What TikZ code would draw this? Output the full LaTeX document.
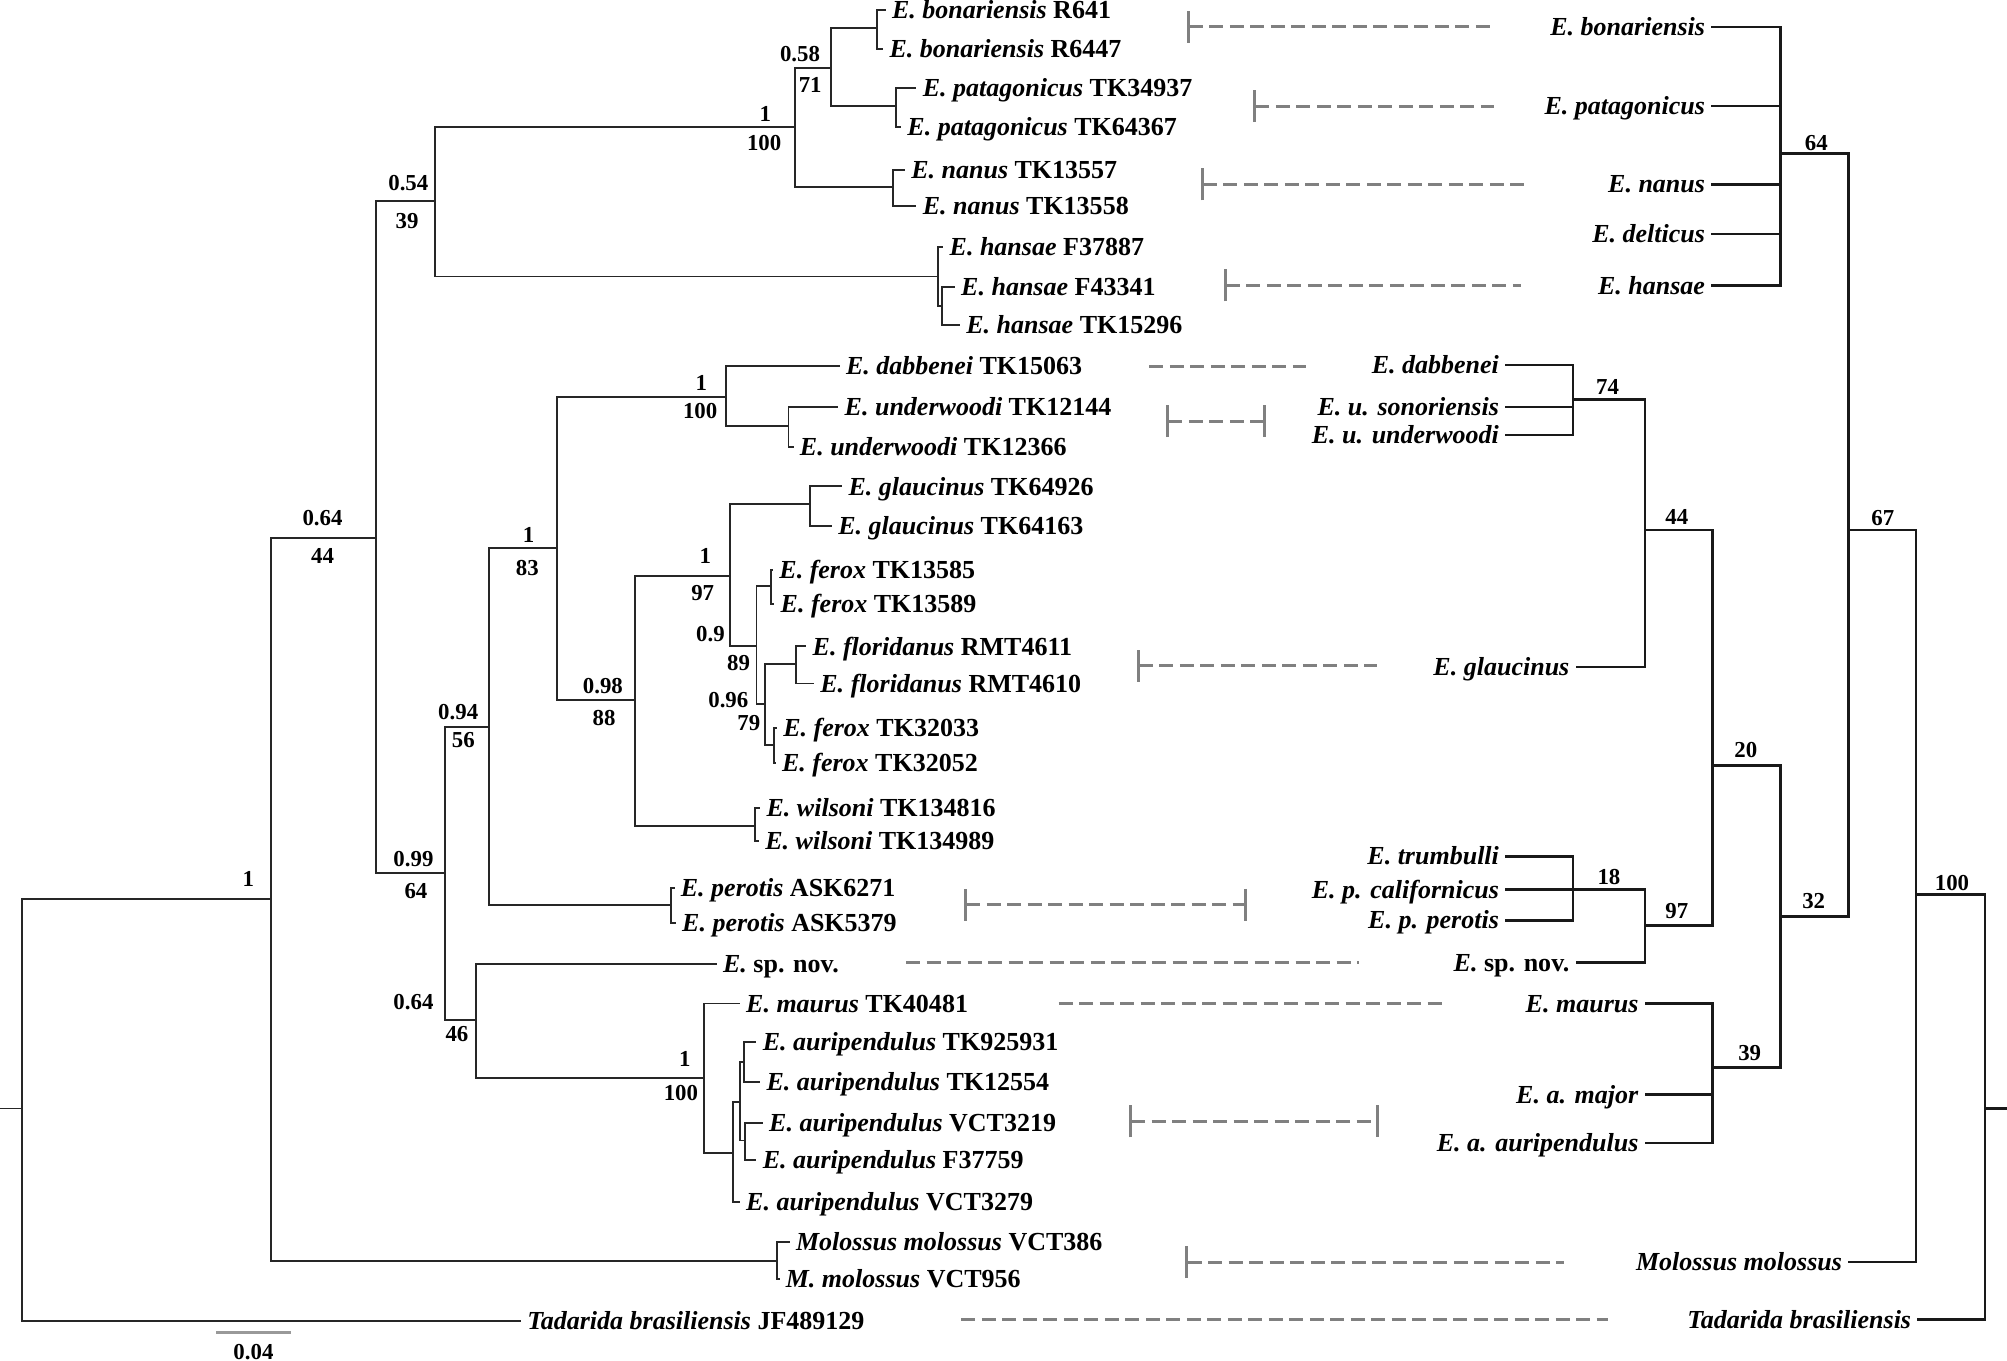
\documentclass[tikz,border=0pt]{standalone}
\usepackage{fontspec}
\setmainfont{Liberation Serif}
\usepackage{tikz}
\usetikzlibrary{arrows.meta}

\begin{document}
\begin{tikzpicture}[
    x=0.128mm, y=-0.128mm,
    font=\bfseries\fontsize{7.4}{8}\selectfont,
    branch/.style={draw=black!85, line width=0.55pt},
    clado/.style={draw=black!90, line width=0.7pt},
    taxon/.style={inner xsep=1.6pt, inner ysep=0pt, text height=4.9pt, text depth=0pt},
    supp/.style={font=\bfseries\fontsize{6.5}{7}\selectfont, inner sep=0pt, text height=4.3pt, text depth=0pt},
    spanline/.style={draw=black!50, line width=0.85pt, dash pattern=on 1.4mm off 0.65mm},
    barl/.style={spanline, {Bar[width=3.2mm]}-},
    barlr/.style={spanline, {Bar[width=3.2mm]}-{Bar[width=3.2mm]}}
]
\useasboundingbox (0,0) rectangle (1568,1063);

% Tree nodes
\coordinate (stubL) at (0,866);
\coordinate (root) at (17,866);
\coordinate (nA) at (212,702);
\coordinate (nB) at (294,420);
\coordinate (nC) at (340,157);
\coordinate (nD) at (621,99);
\coordinate (nE) at (649,53);
\coordinate (nBon) at (685,22);
\coordinate (nPat) at (700,83);
\coordinate (nNan) at (698,146);
\coordinate (nHan) at (733,216);
\coordinate (nHan2) at (736,239);
\coordinate (nF) at (348,682);
\coordinate (nG) at (382,568);
\coordinate (nH) at (435,428);
\coordinate (nI) at (567,310);
\coordinate (nUnd) at (616,333);
\coordinate (nJ) at (496,547);
\coordinate (nK) at (570,450);
\coordinate (nGla) at (633,394);
\coordinate (nL) at (591,505);
\coordinate (nFer) at (602,458);
\coordinate (nR) at (598,550);
\coordinate (nFlo) at (622,519);
\coordinate (nFer2) at (605,582);
\coordinate (nWil) at (590,645);
\coordinate (nPer) at (524,707);
\coordinate (nM) at (372,797);
\coordinate (nN) at (550,842);
\coordinate (nP) at (573,901);
\coordinate (nQ) at (578,861);
\coordinate (nS) at (581,830);
\coordinate (nT) at (582,891);
\coordinate (nMol) at (607,985);

% Taxa
\node[taxon, anchor=west] (bon1) at (692,8) {\textit{E. bonariensis} R641};
\node[taxon, anchor=west] (bon2) at (690,38) {\textit{E. bonariensis} R6447};
\node[taxon, anchor=west] (pat1) at (716,69) {\textit{E. patagonicus} TK34937};
\node[taxon, anchor=west] (pat2) at (704,99) {\textit{E. patagonicus} TK64367};
\node[taxon, anchor=west] (nan1) at (707,133) {\textit{E. nanus} TK13557};
\node[taxon, anchor=west] (nan2) at (716,161) {\textit{E. nanus} TK13558};
\node[taxon, anchor=west] (han1) at (737,193) {\textit{E. hansae} F37887};
\node[taxon, anchor=west] (han2) at (746,224) {\textit{E. hansae} F43341};
\node[taxon, anchor=west] (han3) at (750,254) {\textit{E. hansae} TK15296};
\node[taxon, anchor=west] (dab) at (656,286) {\textit{E. dabbenei} TK15063};
\node[taxon, anchor=west] (und1) at (655,318) {\textit{E. underwoodi} TK12144};
\node[taxon, anchor=west] (und2) at (620,349) {\textit{E. underwoodi} TK12366};
\node[taxon, anchor=west] (gla1) at (658,380) {\textit{E. glaucinus} TK64926};
\node[taxon, anchor=west] (gla2) at (650,411) {\textit{E. glaucinus} TK64163};
\node[taxon, anchor=west] (fer1) at (604,445) {\textit{E. ferox} TK13585};
\node[taxon, anchor=west] (fer2) at (605,472) {\textit{E. ferox} TK13589};
\node[taxon, anchor=west] (flo1) at (630,505) {\textit{E. floridanus} RMT4611};
\node[taxon, anchor=west] (flo2) at (636,534) {\textit{E. floridanus} RMT4610};
\node[taxon, anchor=west] (fer3) at (607,569) {\textit{E. ferox} TK32033};
\node[taxon, anchor=west] (fer4) at (606,596) {\textit{E. ferox} TK32052};
\node[taxon, anchor=west] (wil1) at (594,631) {\textit{E. wilsoni} TK134816};
\node[taxon, anchor=west] (wil2) at (593,657) {\textit{E. wilsoni} TK134989};
\node[taxon, anchor=west] (per1) at (527,694) {\textit{E. perotis} ASK6271};
\node[taxon, anchor=west] (per2) at (528,721) {\textit{E. perotis} ASK5379};
\node[taxon, anchor=west] (spn) at (560,753) {\textit{E.} sp. nov.};
\node[taxon, anchor=west] (mau) at (578,784) {\textit{E. maurus} TK40481};
\node[taxon, anchor=west] (aur1) at (591,814) {\textit{E. auripendulus} TK925931};
\node[taxon, anchor=west] (aur2) at (594,845) {\textit{E. auripendulus} TK12554};
\node[taxon, anchor=west] (aur3) at (596,877) {\textit{E. auripendulus} VCT3219};
\node[taxon, anchor=west] (aur4) at (591,906) {\textit{E. auripendulus} F37759};
\node[taxon, anchor=west] (aur5) at (578,939) {\textit{E. auripendulus} VCT3279};
\node[taxon, anchor=west] (mol1) at (617,970) {\textit{Molossus molossus} VCT386};
\node[taxon, anchor=west] (mol2) at (609,999) {\textit{M. molossus} VCT956};
\node[taxon, anchor=west] (tad) at (407,1032) {\textit{Tadarida brasiliensis} JF489129};

% Branches
\draw[branch] (stubL) -- (root);
\draw[branch] (root) |- (nA) (root) |- (tad.west);
\draw[branch] (nA) |- (nB) (nA) |- (nMol);
\draw[branch] (nB) |- (nC) (nB) |- (nF);
\draw[branch] (nC) |- (nD) (nC) |- (nHan);
\draw[branch] (nD) |- (nE) (nD) |- (nNan);
\draw[branch] (nE) |- (nBon) (nE) |- (nPat);
\draw[branch] (nBon) |- (bon1.west) (nBon) |- (bon2.west);
\draw[branch] (nPat) |- (pat1.west) (nPat) |- (pat2.west);
\draw[branch] (nNan) |- (nan1.west) (nNan) |- (nan2.west);
\draw[branch] (nHan) |- (han1.west) (nHan) |- (nHan2);
\draw[branch] (nHan2) |- (han2.west) (nHan2) |- (han3.west);
\draw[branch] (nF) |- (nG) (nF) |- (nM);
\draw[branch] (nG) |- (nH) (nG) |- (nPer);
\draw[branch] (nH) |- (nI) (nH) |- (nJ);
\draw[branch] (nI) |- (dab.west) (nI) |- (nUnd);
\draw[branch] (nUnd) |- (und1.west) (nUnd) |- (und2.west);
\draw[branch] (nJ) |- (nK) (nJ) |- (nWil);
\draw[branch] (nK) |- (nGla) (nK) |- (nL);
\draw[branch] (nGla) |- (gla1.west) (nGla) |- (gla2.west);
\draw[branch] (nL) |- (nFer) (nL) |- (nR);
\draw[branch] (nFer) |- (fer1.west) (nFer) |- (fer2.west);
\draw[branch] (nR) |- (nFlo) (nR) |- (nFer2);
\draw[branch] (nFlo) |- (flo1.west) (nFlo) |- (flo2.west);
\draw[branch] (nFer2) |- (fer3.west) (nFer2) |- (fer4.west);
\draw[branch] (nWil) |- (wil1.west) (nWil) |- (wil2.west);
\draw[branch] (nPer) |- (per1.west) (nPer) |- (per2.west);
\draw[branch] (nM) |- (spn.west) (nM) |- (nN);
\draw[branch] (nN) |- (mau.west) (nN) |- (nP);
\draw[branch] (nP) |- (nQ) (nP) |- (aur5.west);
\draw[branch] (nQ) |- (nS) (nQ) |- (nT);
\draw[branch] (nS) |- (aur1.west) (nS) |- (aur2.west);
\draw[branch] (nT) |- (aur3.west) (nT) |- (aur4.west);
\draw[branch] (nMol) |- (mol1.west) (nMol) |- (mol2.west);

% Support values
\node[supp] (s1) at (194,687) {1};
\node[supp] (s2) at (252,405) {0.64};
\node[supp] (s3) at (252,434) {44};
\node[supp] (s4) at (319,143) {0.54};
\node[supp] (s5) at (318,173) {39};
\node[supp] (s6) at (598,89) {1};
\node[supp] (s7) at (597,112) {100};
\node[supp] (s8) at (625,42) {0.58};
\node[supp] (s9) at (633,66) {71};
\node[supp] (s10) at (323,671) {0.99};
\node[supp] (s11) at (325,696) {64};
\node[supp] (s12) at (358,556) {0.94};
\node[supp] (s13) at (362,578) {56};
\node[supp] (s14) at (413,418) {1};
\node[supp] (s15) at (412,444) {83};
\node[supp] (s16) at (548,299) {1};
\node[supp] (s17) at (547,321) {100};
\node[supp] (s18) at (471,536) {0.98};
\node[supp] (s19) at (472,561) {88};
\node[supp] (s20) at (551,434) {1};
\node[supp] (s21) at (549,463) {97};
\node[supp] (s22) at (555,495) {0.9};
\node[supp] (s23) at (577,518) {89};
\node[supp] (s24) at (569,547) {0.96};
\node[supp] (s25) at (585,565) {79};
\node[supp] (s26) at (323,783) {0.64};
\node[supp] (s27) at (357,808) {46};
\node[supp] (s28) at (535,827) {1};
\node[supp] (s29) at (532,854) {100};

% Scale bar
\coordinate (sbA) at (169,1041);
\coordinate (sbB) at (227,1041);
\draw[draw=black!40, line width=0.6pt] (sbA) -- (sbB);
\node[supp] (sbT) at (198,1056) {0.04};

% Species ranges
\draw[barl] (927,21) -- (1167,21);
\draw[barl] (979,83) -- (1167,83);
\draw[barl] (938,144) -- (1195,144);
\draw[barl] (956,223) -- (1188,223);
\draw[spanline] (898,286) -- (1020,286);
\draw[barlr] (911,329) -- (989,329);
\draw[barl] (888,520) -- (1076,520);
\draw[barlr] (753,707) -- (974,707);
\draw[spanline] (708,752) -- (1062,752);
\draw[spanline] (827,784) -- (1131,784);
\draw[barlr] (882,876) -- (1077,876);
\draw[barl] (926,986) -- (1222,986);
\draw[spanline] (751,1031) -- (1256,1031);

% Species tree
\coordinate (stubR) at (1568,866);
\coordinate (cRoot) at (1551,866);
\coordinate (c100) at (1497,699);
\coordinate (c67) at (1444,414);
\coordinate (c64) at (1391,120);
\coordinate (c32) at (1391,716);
\coordinate (c20) at (1338,598);
\coordinate (c39) at (1338,834);
\coordinate (c44) at (1285,414);
\coordinate (c97) at (1285,723);
\coordinate (c74) at (1229,312);
\coordinate (c18) at (1229,695);

\node[taxon, anchor=east] (rBon) at (1337,21) {\textit{E. bonariensis}};
\node[taxon, anchor=east] (rPat) at (1337,83) {\textit{E. patagonicus}};
\node[taxon, anchor=east] (rNan) at (1337,144) {\textit{E. nanus}};
\node[taxon, anchor=east] (rDel) at (1337,183) {\textit{E. delticus}};
\node[taxon, anchor=east] (rHan) at (1337,223) {\textit{E. hansae}};
\node[taxon, anchor=east] (rDab) at (1176,285) {\textit{E. dabbenei}};
\node[taxon, anchor=east] (rSon) at (1176,318) {\textit{E. u. sonoriensis}};
\node[taxon, anchor=east] (rUnd) at (1176,340) {\textit{E. u. underwoodi}};
\node[taxon, anchor=east] (rGla) at (1231,521) {\textit{E. glaucinus}};
\node[taxon, anchor=east] (rTru) at (1176,669) {\textit{E. trumbulli}};
\node[taxon, anchor=east] (rCal) at (1176,695) {\textit{E. p. californicus}};
\node[taxon, anchor=east] (rPpe) at (1176,719) {\textit{E. p. perotis}};
\node[taxon, anchor=east] (rSpn) at (1231,752) {\textit{E.} sp. nov.};
\node[taxon, anchor=east] (rMau) at (1285,784) {\textit{E. maurus}};
\node[taxon, anchor=east] (rMaj) at (1285,855) {\textit{E. a. major}};
\node[taxon, anchor=east] (rAur) at (1285,893) {\textit{E. a. auripendulus}};
\node[taxon, anchor=east] (rMol) at (1444,986) {\textit{Molossus molossus}};
\node[taxon, anchor=east] (rTad) at (1498,1031) {\textit{Tadarida brasiliensis}};

\draw[clado] (stubR) -- (cRoot);
\draw[clado] (cRoot) |- (c100) (cRoot) |- (rTad.east);
\draw[clado] (c100) |- (c67) (c100) |- (rMol.east);
\draw[clado] (c67) |- (c64) (c67) |- (c32);
\draw[clado] (c64) |- (rBon.east) (c64) |- (rPat.east) (c64) |- (rNan.east)
             (c64) |- (rDel.east) (c64) |- (rHan.east);
\draw[clado] (c32) |- (c20) (c32) |- (c39);
\draw[clado] (c20) |- (c44) (c20) |- (c97);
\draw[clado] (c44) |- (c74) (c44) |- (rGla.east);
\draw[clado] (c74) |- (rDab.east) (c74) |- (rSon.east) (c74) |- (rUnd.east);
\draw[clado] (c97) |- (c18) (c97) |- (rSpn.east);
\draw[clado] (c18) |- (rTru.east) (c18) |- (rCal.east) (c18) |- (rPpe.east);
\draw[clado] (c39) |- (rMau.east) (c39) |- (rMaj.east) (c39) |- (rAur.east);

\node[supp] (l64) at (1419,112) {64};
\node[supp] (l67) at (1471,405) {67};
\node[supp] (l100) at (1525,690) {100};
\node[supp] (l74) at (1256,302) {74};
\node[supp] (l44) at (1310,404) {44};
\node[supp] (l20) at (1364,586) {20};
\node[supp] (l18) at (1257,685) {18};
\node[supp] (l97) at (1310,712) {97};
\node[supp] (l32) at (1417,704) {32};
\node[supp] (l39) at (1367,823) {39};

\end{tikzpicture}
\end{document}
